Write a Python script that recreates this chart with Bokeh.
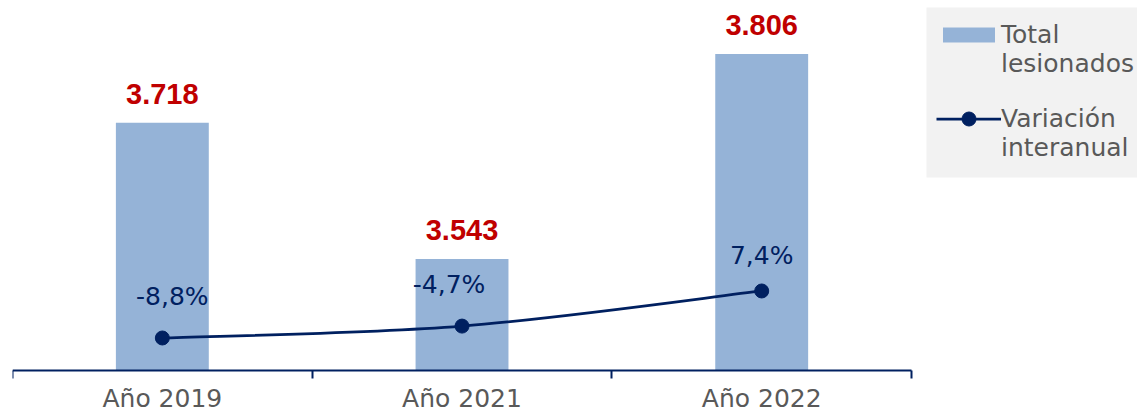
from bokeh.plotting import figure
from bokeh.models import (Range1d, FixedTicker, ColumnDataSource, Legend, LegendItem,
                          BoxAnnotation)
from bokeh.core.properties import value
from bokeh.embed import file_html
from bokeh.resources import INLINE

# ---- data ----
categories = ["Año 2019", "Año 2021", "Año 2022"]
total_lesionados = [3718, 3543, 3806]
variacion_interanual = [-8.8, -4.7, 7.4]
legend_labels = ["Total\nlesionados", "Variación\ninteranual"]
axis_base = 3400          # value where the bar axis starts
pct_range = (-36.2, 107.5)
bar_range = (3339.7, 3874.7)

# ---- styles (label nudges, px) ----
pct_dx = [10, -13, 0]
pct_dy = [-41, -42, -35]

BAR = "#95B3D7"
NAVY = "#002060"
RED = "#C00000"
GREY = "#595959"
LEG_BG = "#F2F2F2"

pos = [i + 0.5 for i in range(len(categories))]
bar_labels = [f"{v:,}".replace(",", ".") for v in total_lesionados]
pct_labels = [f"{v:.1f}%".replace(".", ",") for v in variacion_interanual]

p = figure(width=1137, height=417, output_backend="svg", toolbar_location=None,
           x_range=Range1d(0, 3.754), y_range=Range1d(*bar_range),
           y_axis_location=None, min_border_left=12, min_border_right=0,
           min_border_top=0, min_border_bottom=0)
p.extra_y_ranges = {"pct": Range1d(*pct_range)}
p.grid.visible = False
p.outline_line_color = None

# legend background panel (screen units)
p.add_layout(BoxAnnotation(left=914, right=1140, bottom=240, top=410,
                           left_units="screen", right_units="screen",
                           bottom_units="screen", top_units="screen",
                           fill_color=LEG_BG, fill_alpha=1.0, line_color=None,
                           level="underlay"))

bsrc = ColumnDataSource(dict(x=pos, top=total_lesionados, lab=bar_labels))
bars = p.vbar(x="x", top="top", bottom=axis_base, width=0.31, source=bsrc,
              fill_color=BAR, line_color=None)
p.text(x="x", y="top", text="lab", source=bsrc, text_font=value("Liberation Sans"),
       text_font_style="bold", text_font_size="29px", text_color=RED,
       text_align="center", text_baseline="alphabetic", y_offset=-29)

# smooth (Excel-like) curve through the series points
n = len(pos)
P = list(zip(pos, variacion_interanual))
x0, y0, x1, y1, cx0, cy0, cx1, cy1 = [], [], [], [], [], [], [], []
for i in range(n - 1):
    pm = P[max(i - 1, 0)]
    pa = P[i]
    pb = P[i + 1]
    pn = P[min(i + 2, n - 1)]
    x0.append(pa[0]); y0.append(pa[1]); x1.append(pb[0]); y1.append(pb[1])
    cx0.append(pa[0] + (pb[0] - pm[0]) / 6); cy0.append(pa[1] + (pb[1] - pm[1]) / 6)
    cx1.append(pb[0] - (pn[0] - pa[0]) / 6); cy1.append(pb[1] - (pn[1] - pa[1]) / 6)
curve = p.bezier(x0=x0, y0=y0, x1=x1, y1=y1, cx0=cx0, cy0=cy0, cx1=cx1, cy1=cy1,
                 line_color=NAVY, line_width=2.75, y_range_name="pct")

lsrc = ColumnDataSource(dict(x=pos, y=variacion_interanual, lab=pct_labels, dx=pct_dx, dy=pct_dy))
dots = p.scatter(x="x", y="y", source=lsrc, size=14, fill_color=NAVY, line_color=NAVY,
                 y_range_name="pct")
p.text(x="x", y="y", text="lab", source=lsrc, x_offset="dx", y_offset="dy",
       text_font=value("DejaVu Sans"), text_font_size="25px", text_color=NAVY,
       text_align="center", text_baseline="alphabetic", y_range_name="pct")

# category axis: line + boundary ticks at the bar base, names centred below
ax = p.xaxis[0]
ax.fixed_location = axis_base
ax.ticker = FixedTicker(ticks=[], minor_ticks=list(range(len(categories) + 1)))
ax.bounds = (0, len(categories))
ax.axis_line_color = NAVY
ax.axis_line_width = 2
ax.major_tick_line_color = None
ax.major_tick_out = 0
ax.major_tick_in = 0
ax.minor_tick_line_color = NAVY
ax.minor_tick_line_width = 2
ax.minor_tick_out = 8
ax.minor_tick_in = 0

csrc = ColumnDataSource(dict(x=pos, y=[axis_base] * len(pos), lab=categories))
p.text(x="x", y="y", text="lab", source=csrc, y_offset=28,
       text_font=value("DejaVu Sans"), text_font_size="25px", text_color=GREY,
       text_align="center", text_baseline="alphabetic")


def make_legend(label, renderers, gh, loc):
    return Legend(items=[LegendItem(label="\n" + label, renderers=renderers)],
                  location=loc, orientation="vertical",
                  background_fill_alpha=0.0, border_line_color=None,
                  padding=0, spacing=0, margin=0,
                  glyph_width=65, glyph_height=gh, label_standoff=0,
                  label_text_font="DejaVu Sans", label_text_font_size="25px",
                  label_text_color=GREY)


p.add_layout(make_legend(legend_labels[1], [curve, dots], 35, (924, 255)), "center")
p.add_layout(make_legend(legend_labels[0], [bars], 19, (924, 339)), "center")

open("out.html", "w").write(file_html(p, INLINE))
